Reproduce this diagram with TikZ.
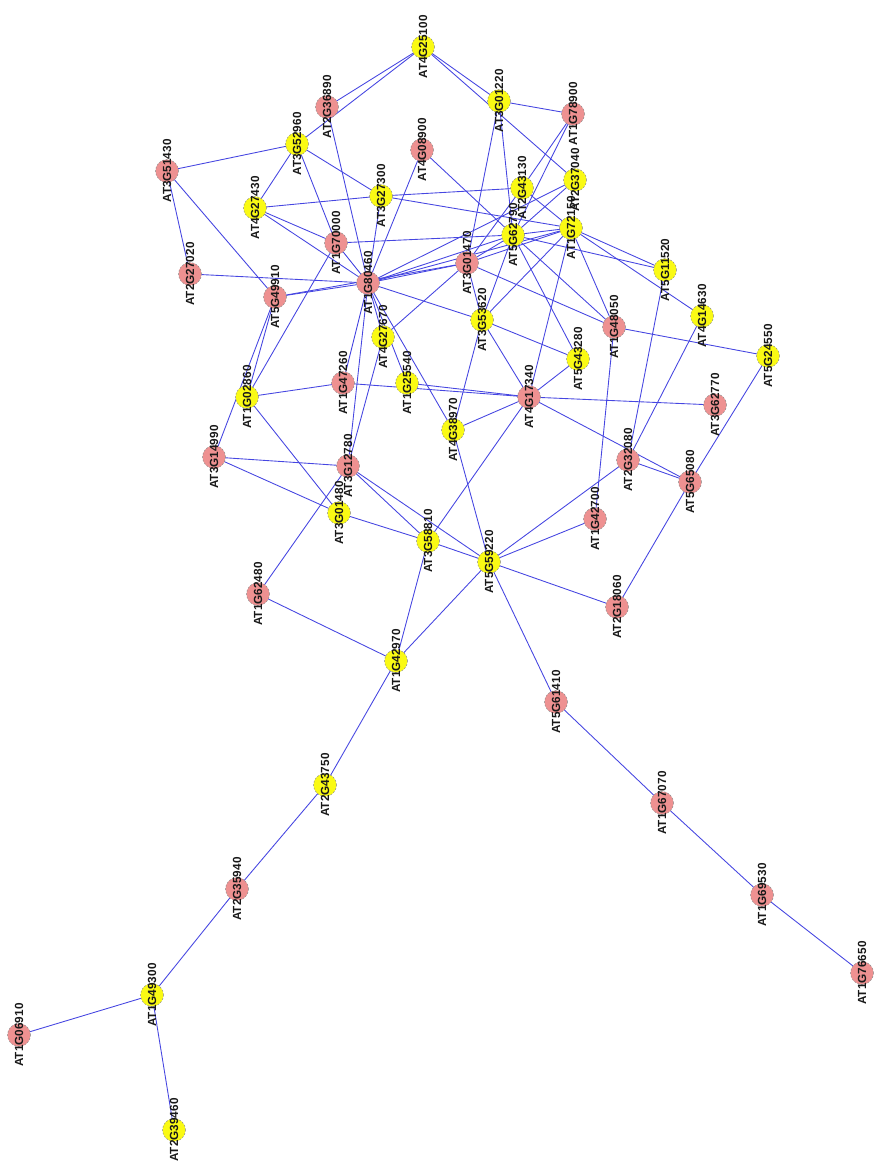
\documentclass[tikz,border=0pt]{standalone}
\usepackage{fontspec}
\setmainfont{Liberation Sans}
\pgfdeclarelayer{bg}
\pgfsetlayers{bg,main}
\definecolor{nodey}{RGB}{250,250,20}
\definecolor{nodep}{RGB}{238,145,145}
\definecolor{edgeblue}{RGB}{70,70,225}
\newcommand\gn[3]{\node[#1] (#2) at (#3) {}; \node[lab] (#2-t) at (#2) {#2};}
\begin{document}
\begin{tikzpicture}[x=0.02cm,y=-0.02cm,
  gbase/.style={circle, draw=black!45, dashed, dash pattern=on 1pt off 1pt, line width=0.3pt, minimum size=0.46cm, inner sep=0pt},
  yn/.style={gbase, fill=nodey},
  pn/.style={gbase, fill=nodep},
  lab/.style={rotate=90, font=\fontsize{6.7}{7}\selectfont\bfseries, inner sep=0pt, text=black!90},
  edge/.style={draw=edgeblue, line width=0.5pt}]
\useasboundingbox (0,0) rectangle (875,1162);
\gn{yn}{AT4G25100}{423,47}
\gn{pn}{AT2G36890}{327,107}
\gn{yn}{AT3G01220}{499,101}
\gn{pn}{AT1G78900}{573,114}
\gn{yn}{AT3G52960}{297,144}
\gn{pn}{AT4G08900}{422,150}
\gn{pn}{AT3G51430}{167,171}
\gn{yn}{AT2G43130}{522,188}
\gn{yn}{AT2G37040}{575,180}
\gn{yn}{AT4G27430}{255,208}
\gn{yn}{AT3G27300}{381,196}
\gn{pn}{AT1G70000}{336,243}
\gn{yn}{AT5G62790}{513,235}
\gn{yn}{AT1G72150}{571,228}
\gn{pn}{AT3G01470}{467,263}
\gn{pn}{AT2G27020}{190,274}
\gn{pn}{AT5G49910}{275,297}
\gn{pn}{AT1G80460}{368,283}
\gn{yn}{AT5G11520}{665,270}
\gn{yn}{AT3G53620}{482,320}
\gn{pn}{AT1G48050}{614,327}
\gn{yn}{AT4G14630}{702,316}
\gn{yn}{AT4G27670}{383,337}
\gn{yn}{AT5G24550}{768,356}
\gn{yn}{AT5G43280}{578,359}
\gn{pn}{AT1G47260}{343,383}
\gn{yn}{AT1G25540}{407,383}
\gn{yn}{AT1G02860}{247,397}
\gn{pn}{AT4G17340}{529,397}
\gn{pn}{AT3G62770}{715,405}
\gn{yn}{AT4G38970}{453,430}
\gn{pn}{AT3G14990}{214,457}
\gn{pn}{AT3G12780}{348,466}
\gn{pn}{AT2G32080}{628,460}
\gn{pn}{AT5G65080}{690,482}
\gn{yn}{AT3G01480}{339,513}
\gn{pn}{AT1G42700}{595,519}
\gn{yn}{AT3G58810}{428,541}
\gn{yn}{AT5G59220}{489,562}
\gn{pn}{AT1G62480}{258,594}
\gn{pn}{AT2G18060}{617,607}
\gn{yn}{AT1G42970}{396,661}
\gn{pn}{AT5G61410}{556,702}
\gn{yn}{AT2G43750}{325,785}
\gn{pn}{AT1G67070}{662,803}
\gn{pn}{AT2G35940}{237,889}
\gn{pn}{AT1G69530}{762,895}
\gn{yn}{AT1G49300}{152,995}
\gn{pn}{AT1G06910}{19,1035}
\gn{pn}{AT1G76650}{862,973}
\gn{yn}{AT2G39460}{174,1130}
\begin{pgfonlayer}{bg}
\foreach \a/\b in {
AT4G25100/AT2G36890, AT4G25100/AT3G52960, AT4G25100/AT3G01220, AT4G25100/AT2G37040,
AT3G01220/AT1G78900, AT3G01220/AT3G01470, AT3G01220/AT5G62790,
AT1G78900/AT2G43130, AT1G78900/AT5G62790, AT2G36890/AT1G80460,
AT3G52960/AT3G51430, AT3G52960/AT4G27430, AT3G52960/AT3G27300, AT3G52960/AT1G70000,
AT3G51430/AT2G27020, AT3G51430/AT5G49910,
AT4G27430/AT3G27300, AT4G27430/AT1G70000, AT4G27430/AT1G80460,
AT3G27300/AT1G80460, AT3G27300/AT1G72150, AT3G27300/AT2G43130,
AT4G08900/AT5G62790, AT4G08900/AT1G80460,
AT1G70000/AT1G80460, AT1G70000/AT5G62790, AT1G70000/AT1G02860,
AT2G43130/AT1G72150, AT2G43130/AT3G01470,
AT2G37040/AT5G62790, AT2G37040/AT1G80460,
AT5G62790/AT1G72150, AT5G62790/AT3G01470, AT5G62790/AT1G80460, AT5G62790/AT3G53620,
AT5G62790/AT5G43280, AT5G62790/AT1G48050, AT5G62790/AT5G11520,
AT1G72150/AT3G01470, AT1G72150/AT1G80460, AT1G72150/AT5G11520, AT1G72150/AT4G14630,
AT1G72150/AT1G48050, AT1G72150/AT4G17340, AT1G72150/AT3G53620,
AT3G01470/AT1G80460, AT3G01470/AT1G48050, AT3G01470/AT3G53620, AT3G01470/AT4G27670,
AT3G01470/AT5G49910,
AT2G27020/AT1G80460, AT5G49910/AT1G80460, AT5G49910/AT1G02860, AT5G49910/AT3G14990,
AT1G80460/AT3G53620, AT1G80460/AT4G27670, AT1G80460/AT1G25540, AT1G80460/AT4G38970,
AT1G80460/AT1G47260, AT1G80460/AT3G12780,
AT5G11520/AT2G32080, AT4G14630/AT2G32080,
AT3G53620/AT5G43280, AT3G53620/AT4G17340, AT3G53620/AT4G38970,
AT1G48050/AT5G24550, AT1G48050/AT1G42700, AT4G27670/AT3G12780,
AT5G24550/AT5G65080, AT5G43280/AT4G17340,
AT1G47260/AT1G02860, AT1G47260/AT4G17340, AT1G25540/AT4G17340, AT1G02860/AT3G01480,
AT4G17340/AT3G62770, AT4G17340/AT4G38970, AT4G17340/AT5G65080, AT4G17340/AT3G58810,
AT4G38970/AT5G59220,
AT3G14990/AT3G12780, AT3G14990/AT3G01480,
AT3G12780/AT3G58810, AT3G12780/AT5G59220, AT3G12780/AT1G62480,
AT2G32080/AT5G65080, AT2G32080/AT5G59220, AT5G65080/AT2G18060,
AT3G01480/AT3G58810, AT1G42700/AT5G59220,
AT3G58810/AT5G59220, AT3G58810/AT1G42970,
AT5G59220/AT2G18060, AT5G59220/AT1G42970, AT5G59220/AT5G61410,
AT1G62480/AT1G42970, AT1G42970/AT2G43750, AT2G43750/AT2G35940,
AT2G35940/AT1G49300, AT1G49300/AT1G06910, AT1G49300/AT2G39460,
AT5G61410/AT1G67070, AT1G67070/AT1G69530, AT1G69530/AT1G76650}
  \draw[edge] (\a.center) -- (\b.center);
\end{pgfonlayer}
\end{tikzpicture}
\end{document}
